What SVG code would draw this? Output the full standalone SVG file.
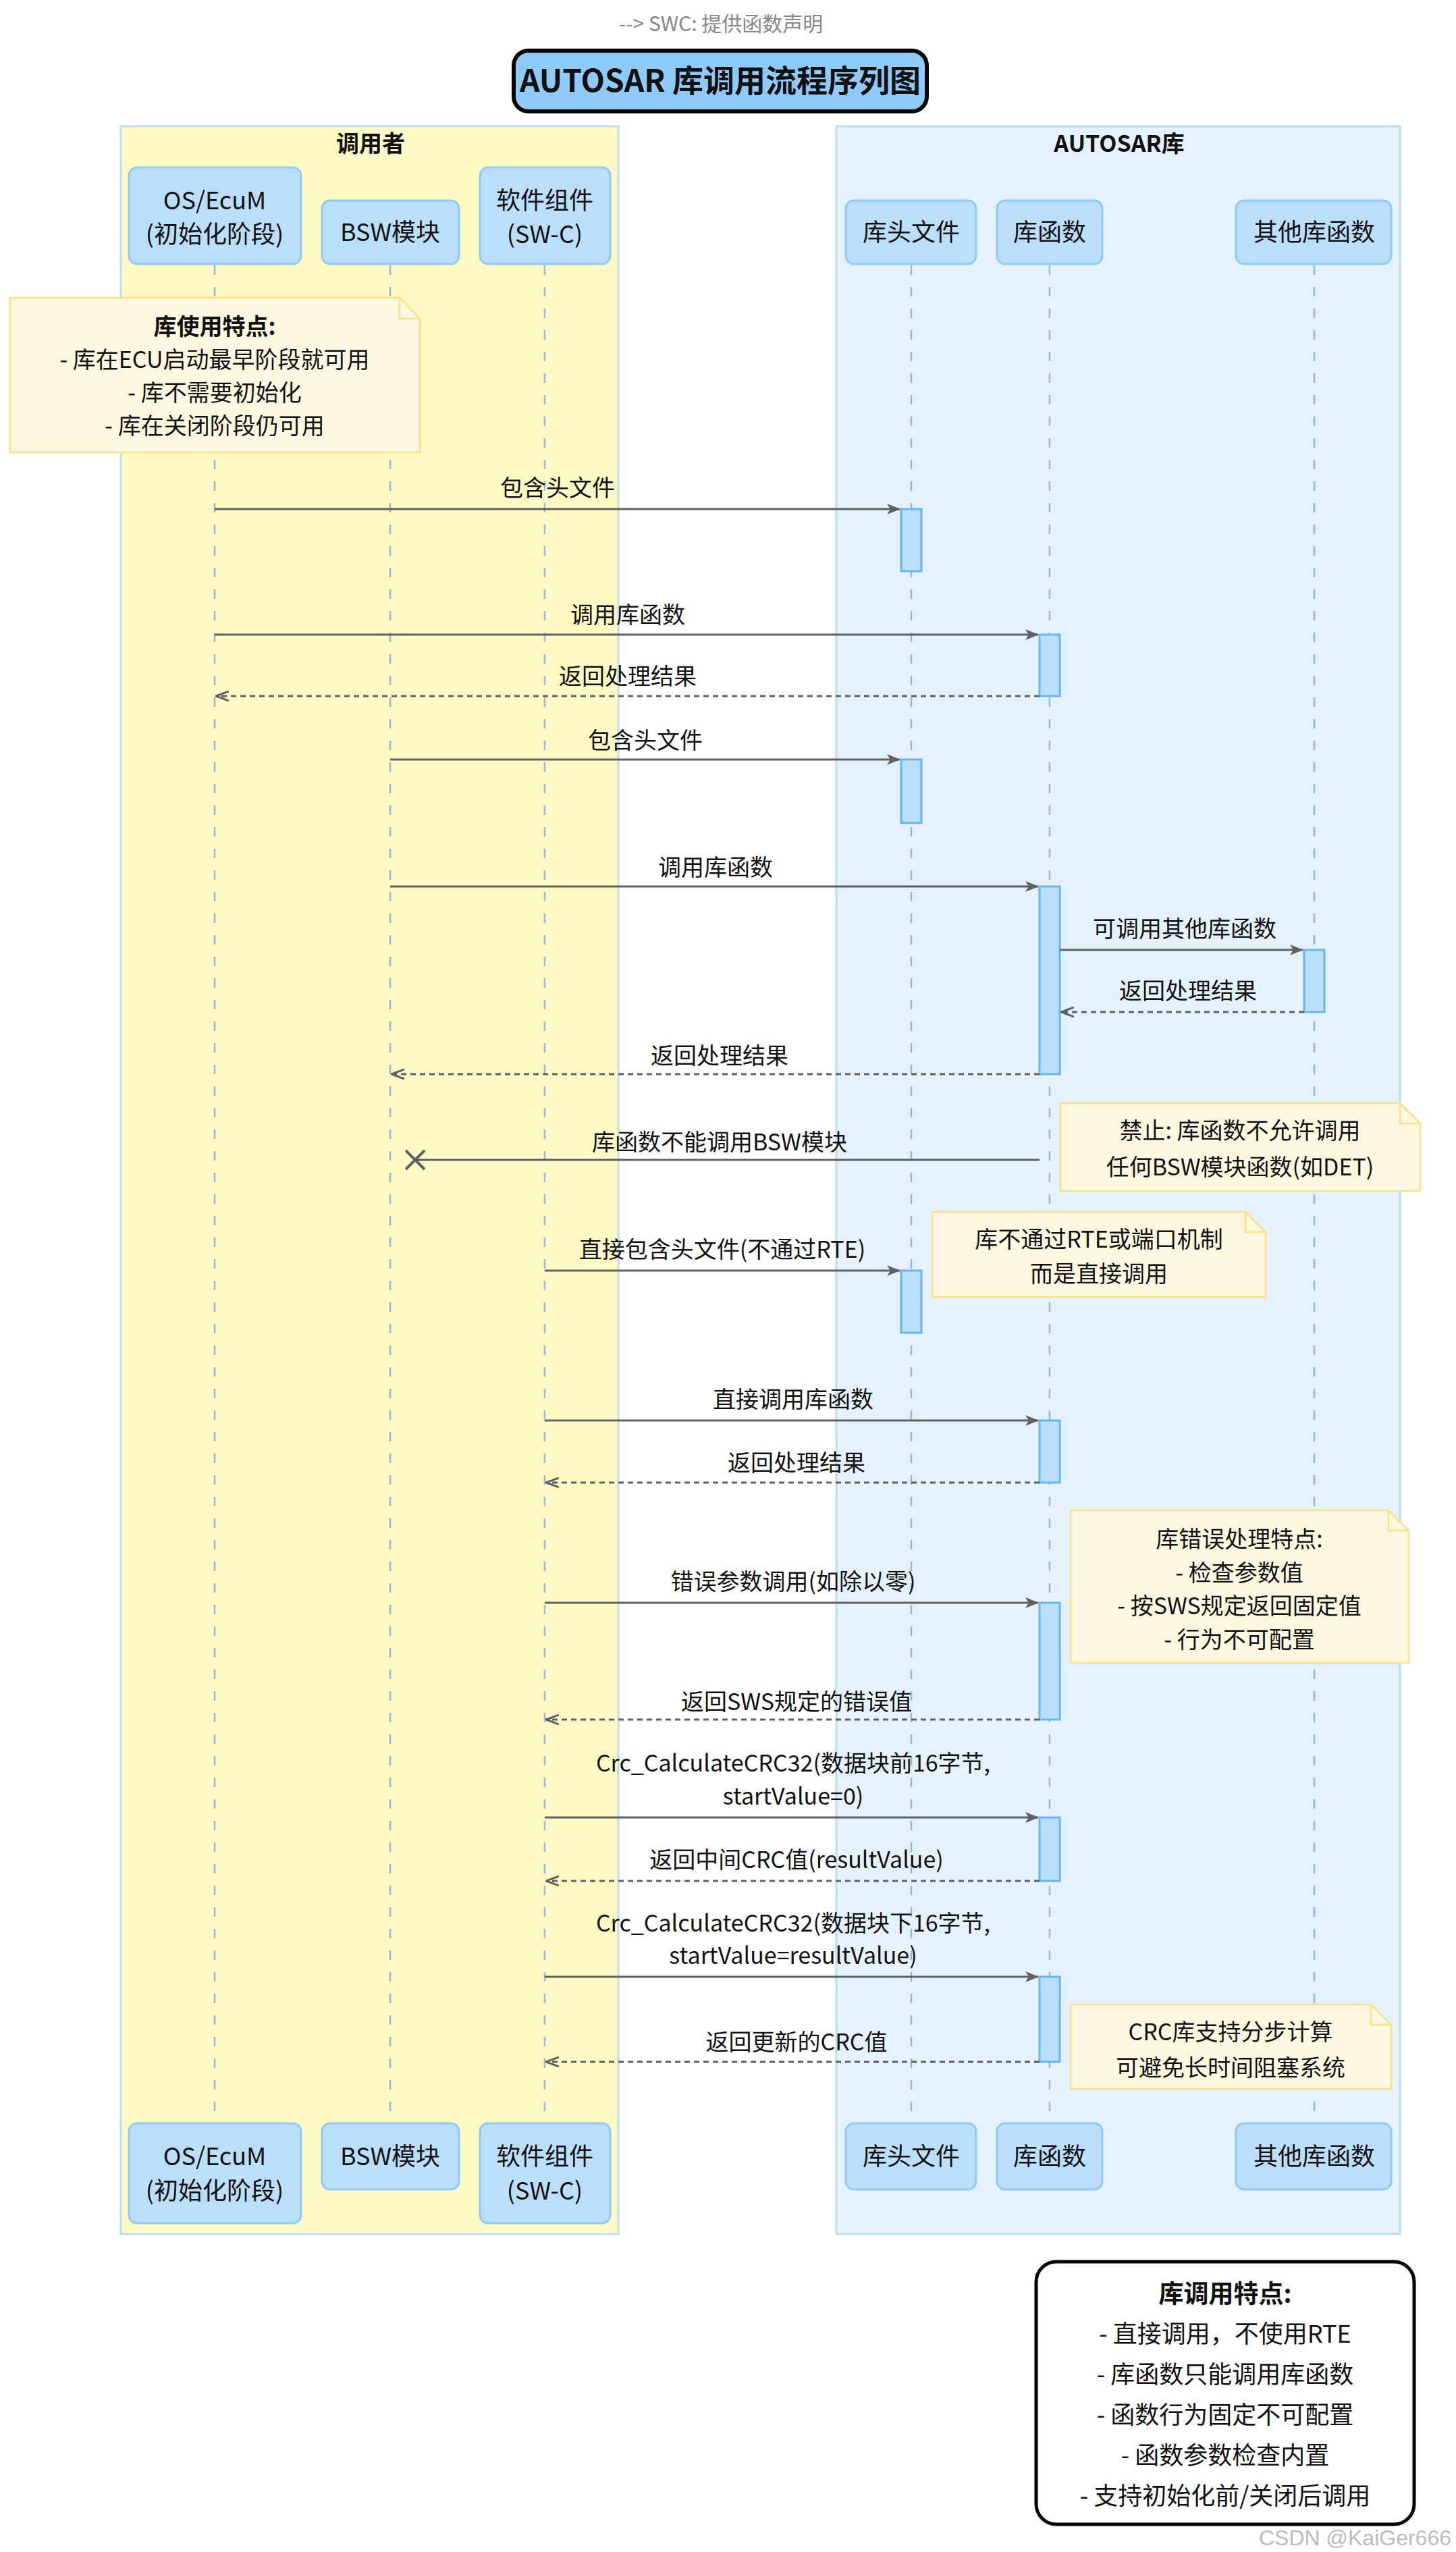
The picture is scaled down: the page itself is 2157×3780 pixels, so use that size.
<svg xmlns="http://www.w3.org/2000/svg" width="2157" height="3780" viewBox="0 0 2157 3780">
<defs>
<style>
text{font-family:"Noto Sans CJK SC","Noto Sans",sans-serif;fill:#111;text-anchor:middle}
.t{font-size:34px}
.p{font-size:36px}
.b{font-weight:bold}
.part{fill:#BBDEFB;stroke:#90CAF9;stroke-width:3}
.life{stroke:#90B8E0;stroke-width:2.5;stroke-dasharray:14 18}
.act{fill:#BBDEFB;stroke:#64B5F6;stroke-width:3}
.msg{stroke:#616161;stroke-width:3;fill:none}
.ret{stroke:#616161;stroke-width:3;fill:none;stroke-dasharray:8 6}
.note{fill:#FFF8E1;stroke:#FFE082;stroke-width:2.5}
</style>
<marker id="ah" viewBox="0 0 20 16" refX="19" refY="8" markerWidth="20" markerHeight="16" markerUnits="userSpaceOnUse" orient="auto"><path d="M0,0 L20,8 L0,16 L5,8 Z" fill="#616161"/></marker>
<marker id="ao" viewBox="0 0 20 16" refX="19" refY="8" markerWidth="20" markerHeight="16" markerUnits="userSpaceOnUse" orient="auto"><path d="M0,1 L19,8 L0,15" fill="none" stroke="#616161" stroke-width="3"/></marker>
</defs>
<rect width="2157" height="3780" fill="#fff"/>
<text x="1068" y="46" style="font-size:30px;fill:#888">--&gt; SWC: 提供函数声明</text>
<g id="title"><rect x="761" y="75" width="612" height="90" rx="22" fill="#90CAF9" stroke="#000" stroke-width="6"/><text x="1067" y="136" class="b" style="font-size:46px">AUTOSAR 库调用流程序列图</text></g>
<g id="group-caller"><rect x="179" y="187" width="737" height="3122" fill="#FFF9C4" stroke="#BBDEFB" stroke-width="3"/><text x="549" y="225" class="b t">调用者</text></g>
<g id="group-lib"><rect x="1239" y="187" width="835" height="3122" fill="#E3F2FD" stroke="#BBDEFB" stroke-width="3"/><text x="1658" y="225" class="b t">AUTOSAR库</text></g>
<g id="lifelines">
<line class="life" x1="318" y1="393" x2="318" y2="3143"/>
<line class="life" x1="578" y1="393" x2="578" y2="3143"/>
<line class="life" x1="807" y1="393" x2="807" y2="3143"/>
<line class="life" x1="1350" y1="393" x2="1350" y2="3143"/>
<line class="life" x1="1555" y1="393" x2="1555" y2="3143"/>
<line class="life" x1="1947" y1="393" x2="1947" y2="3143"/>
</g>
<g id="p-os"><rect class="part" x="191" y="248" width="255" height="143" rx="12"/><text class="p" x="318" y="310">OS/EcuM</text><text class="p" x="318" y="360">(初始化阶段)</text>
<rect class="part" x="191" y="3145" width="255" height="148" rx="12"/><text class="p" x="318" y="3207">OS/EcuM</text><text class="p" x="318" y="3258">(初始化阶段)</text></g>
<g id="p-bsw"><rect class="part" x="477" y="297" width="203" height="94" rx="12"/><text class="p" x="578" y="357">BSW模块</text>
<rect class="part" x="477" y="3145" width="203" height="98" rx="12"/><text class="p" x="578" y="3207">BSW模块</text></g>
<g id="p-swc"><rect class="part" x="711" y="248" width="193" height="143" rx="12"/><text class="p" x="807" y="310">软件组件</text><text class="p" x="807" y="360">(SW-C)</text>
<rect class="part" x="711" y="3145" width="193" height="148" rx="12"/><text class="p" x="807" y="3207">软件组件</text><text class="p" x="807" y="3258">(SW-C)</text></g>
<g id="p-hdr"><rect class="part" x="1253" y="297" width="193" height="94" rx="12"/><text class="p" x="1350" y="357">库头文件</text>
<rect class="part" x="1253" y="3145" width="193" height="98" rx="12"/><text class="p" x="1350" y="3207">库头文件</text></g>
<g id="p-fn"><rect class="part" x="1477" y="297" width="156" height="94" rx="12"/><text class="p" x="1555" y="357">库函数</text>
<rect class="part" x="1477" y="3145" width="156" height="98" rx="12"/><text class="p" x="1555" y="3207">库函数</text></g>
<g id="p-other"><rect class="part" x="1831" y="297" width="230" height="94" rx="12"/><text class="p" x="1947" y="357">其他库函数</text>
<rect class="part" x="1831" y="3145" width="230" height="98" rx="12"/><text class="p" x="1947" y="3207">其他库函数</text></g>
<g id="note-usage"><path class="note" d="M15,441 H592 L622,472 V670 H15 Z"/><path d="M592,441 V472 H622" fill="none" stroke="#FFE082" stroke-width="2.5"/>
<text class="t b" x="318" y="496">库使用特点:</text><text class="t" x="318" y="545">- 库在ECU启动最早阶段就可用</text><text class="t" x="318" y="594">- 库不需要初始化</text><text class="t" x="318" y="643">- 库在关闭阶段仍可用</text></g>
<g id="activations">
<rect class="act" x="1335" y="754" width="30" height="92"/>
<rect class="act" x="1540" y="940" width="30" height="91"/>
<rect class="act" x="1335" y="1125" width="30" height="94"/>
<rect class="act" x="1540" y="1313" width="30" height="278"/>
<rect class="act" x="1932" y="1407" width="30" height="92"/>
<rect class="act" x="1335" y="1882" width="30" height="92"/>
<rect class="act" x="1540" y="2104" width="30" height="92"/>
<rect class="act" x="1540" y="2374" width="30" height="173"/>
<rect class="act" x="1540" y="2692" width="30" height="94"/>
<rect class="act" x="1540" y="2928" width="30" height="126"/>
</g>
<g id="connectors">
<line class="msg" x1="318" y1="754" x2="1333" y2="754" marker-end="url(#ah)"/><text class="t" x="826" y="735">包含头文件</text>
<line class="msg" x1="318" y1="940" x2="1538" y2="940" marker-end="url(#ah)"/><text class="t" x="930" y="923">调用库函数</text>
<line class="ret" x1="1540" y1="1031" x2="320" y2="1031" marker-end="url(#ao)"/><text class="t" x="930" y="1014">返回处理结果</text>
<line class="msg" x1="578" y1="1125" x2="1333" y2="1125" marker-end="url(#ah)"/><text class="t" x="956" y="1109">包含头文件</text>
<line class="msg" x1="578" y1="1313" x2="1538" y2="1313" marker-end="url(#ah)"/><text class="t" x="1060" y="1297">调用库函数</text>
<line class="msg" x1="1570" y1="1407" x2="1930" y2="1407" marker-end="url(#ah)"/><text class="t" x="1755" y="1388">可调用其他库函数</text>
<line class="ret" x1="1932" y1="1499" x2="1572" y2="1499" marker-end="url(#ao)"/><text class="t" x="1760" y="1480">返回处理结果</text>
<line class="ret" x1="1540" y1="1591" x2="580" y2="1591" marker-end="url(#ao)"/><text class="t" x="1066" y="1576">返回处理结果</text>
<line class="msg" x1="1540" y1="1718" x2="615" y2="1718"/><path d="M601,1704 L629,1732 M629,1704 L601,1732" stroke="#616161" stroke-width="4"/><text class="t" x="1066" y="1704">库函数不能调用BSW模块</text>
<line class="msg" x1="807" y1="1882" x2="1333" y2="1882" marker-end="url(#ah)"/><text class="t" x="1070" y="1863">直接包含头文件(不通过RTE)</text>
<line class="msg" x1="807" y1="2104" x2="1538" y2="2104" marker-end="url(#ah)"/><text class="t" x="1175" y="2085">直接调用库函数</text>
<line class="ret" x1="1540" y1="2196" x2="809" y2="2196" marker-end="url(#ao)"/><text class="t" x="1180" y="2179">返回处理结果</text>
<line class="msg" x1="807" y1="2374" x2="1538" y2="2374" marker-end="url(#ah)"/><text class="t" x="1175" y="2355">错误参数调用(如除以零)</text>
<line class="ret" x1="1540" y1="2547" x2="809" y2="2547" marker-end="url(#ao)"/><text class="t" x="1180" y="2533">返回SWS规定的错误值</text>
<line class="msg" x1="807" y1="2692" x2="1538" y2="2692" marker-end="url(#ah)"/><text class="t" x="1175" y="2624">Crc_CalculateCRC32(数据块前16字节,</text><text class="t" x="1175" y="2673">startValue=0)</text>
<line class="ret" x1="1540" y1="2786" x2="809" y2="2786" marker-end="url(#ao)"/><text class="t" x="1180" y="2767">返回中间CRC值(resultValue)</text>
<line class="msg" x1="807" y1="2928" x2="1538" y2="2928" marker-end="url(#ah)"/><text class="t" x="1175" y="2861">Crc_CalculateCRC32(数据块下16字节,</text><text class="t" x="1175" y="2909">startValue=resultValue)</text>
<line class="ret" x1="1540" y1="3054" x2="809" y2="3054" marker-end="url(#ao)"/><text class="t" x="1180" y="3037">返回更新的CRC值</text>
</g>
<g id="note-forbid"><path class="note" d="M1571,1634 H2074 L2104,1664 V1764 H1571 Z"/><path d="M2074,1634 V1664 H2104" fill="none" stroke="#FFE082" stroke-width="2.5"/><text class="t" x="1837" y="1687">禁止: 库函数不允许调用</text><text class="t" x="1837" y="1741">任何BSW模块函数(如DET)</text></g>
<g id="note-rte"><path class="note" d="M1381,1795 H1845 L1875,1825 V1921 H1381 Z"/><path d="M1845,1795 V1825 H1875" fill="none" stroke="#FFE082" stroke-width="2.5"/><text class="t" x="1628" y="1848">库不通过RTE或端口机制</text><text class="t" x="1628" y="1899">而是直接调用</text></g>
<g id="note-err"><path class="note" d="M1586,2237 H2057 L2087,2267 V2463 H1586 Z"/><path d="M2057,2237 V2267 H2087" fill="none" stroke="#FFE082" stroke-width="2.5"/><text class="t" x="1836" y="2292">库错误处理特点:</text><text class="t" x="1836" y="2342">- 检查参数值</text><text class="t" x="1836" y="2391">- 按SWS规定返回固定值</text><text class="t" x="1836" y="2441">- 行为不可配置</text></g>
<g id="note-crc"><path class="note" d="M1586,2969 H2031 L2061,2999 V3094 H1586 Z"/><path d="M2031,2969 V2999 H2061" fill="none" stroke="#FFE082" stroke-width="2.5"/><text class="t" x="1823" y="3022">CRC库支持分步计算</text><text class="t" x="1823" y="3075">可避免长时间阻塞系统</text></g>
<g id="note-summary"><rect x="1535" y="3350" width="560" height="389" rx="30" fill="#fff" stroke="#000" stroke-width="5"/>
<text class="b" x="1815" y="3411" style="font-size:37px">库调用特点:</text>
<text class="p" x="1815" y="3470">- 直接调用，不使用RTE</text><text class="p" x="1815" y="3530">- 库函数只能调用库函数</text><text class="p" x="1815" y="3590">- 函数行为固定不可配置</text><text class="p" x="1815" y="3650">- 函数参数检查内置</text><text class="p" x="1815" y="3710">- 支持初始化前/关闭后调用</text></g>
<text x="2150" y="3770" style="font-size:32px;fill:#bbb;text-anchor:end;font-family:'Liberation Sans',sans-serif">CSDN @KaiGer666</text>
</svg>
